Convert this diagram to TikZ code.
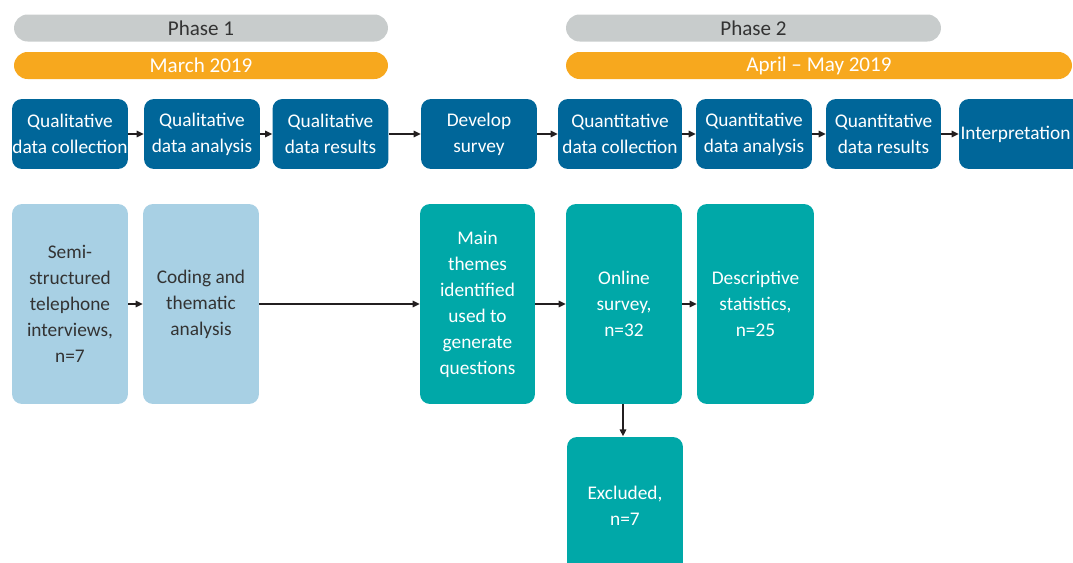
\documentclass[tikz,border=0pt]{standalone}
\usepackage{fontspec}
\setmainfont{Carlito}
\usetikzlibrary{arrows.meta,positioning}
\definecolor{phaseGray}{RGB}{200,204,204}
\definecolor{dateOrange}{RGB}{247,168,30}
\definecolor{stepBlue}{RGB}{0,102,153}
\definecolor{qualBlue}{RGB}{168,208,228}
\definecolor{quantTeal}{RGB}{0,168,168}
\definecolor{darkInk}{RGB}{51,51,51}
\definecolor{arrowInk}{RGB}{35,31,32}
\tikzset{
  bar/.style={rounded corners=0.27cm, minimum height=0.54cm, inner sep=0pt, font=\fontsize{12}{14.6}\selectfont},
  phasebar/.style={bar, fill=phaseGray, text=darkInk},
  datebar/.style={bar, fill=dateOrange, text=white},
  box/.style={rounded corners=0.2cm, align=center, inner sep=0pt, minimum width=2.32cm, font=\fontsize{11}{14.8}\selectfont},
  stepbox/.style={box, fill=stepBlue, text=white, minimum height=1.4cm},
  qualbox/.style={box, fill=qualBlue, text=darkInk, minimum height=4cm},
  quantbox/.style={box, fill=quantTeal, text=white, minimum height=4cm},
  flow/.style={-{Triangle[length=1.4mm,width=1.3mm]}, line width=0.85pt, draw=arrowInk}
}

\begin{document}
\begin{tikzpicture}[x=0.02cm, y=-0.02cm]
        \useasboundingbox (0,0) rectangle (1073,562);
        \clip (0,0) rectangle (1073,562);
        % timeline bars
        \node[phasebar, minimum width=7.48cm] (p1) at (201,28) {Phase 1};
        \node[datebar, minimum width=7.48cm] (d1) at (201,65.5) {March 2019};
        \node[phasebar, minimum width=7.5cm] (p2) at (753.5,28) {Phase 2};
        \node[datebar, minimum width=10.12cm] (d2) at (819,65.5) {April – May 2019};
        % process steps
        \node[stepbox] (ql1) at (70,134) {Qualitative\\data collection};
        \node[stepbox] (ql2) at (202,134) {Qualitative\\data analysis};
        \node[stepbox] (ql3) at (330.5,134) {Qualitative\\data results};
        \node[stepbox] (dev) at (479,134) {Develop\\survey};
        \node[stepbox, minimum width=2.48cm] (qn1) at (620,134) {Quantitative\\data collection};
        \node[stepbox] (qn2) at (754,134) {Quantitative\\data analysis};
        \node[stepbox, minimum width=2.3cm] (qn3) at (883.5,134) {Quantitative\\data results};
        \node[stepbox, minimum width=2.48cm, align=left, text width=2.42cm] (int) at (1021,134) {Interpretation};
        % details
        \node[qualbox] (semi) at (70,304) {Semi-\\structured\\telephone\\interviews,\\n=7};
        \node[qualbox] (code) at (201,304) {Coding and\\thematic\\analysis};
        \node[quantbox, minimum width=2.3cm] (themes) at (477.5,304) {Main\\themes\\identified\\used to\\generate\\questions};
        \node[quantbox] (online) at (624,304) {Online\\survey,\\n=32};
        \node[quantbox, minimum width=2.34cm] (desc) at (755.5,304) {Descriptive\\statistics,\\n=25};
        \node[quantbox, minimum height=2.76cm] (excl) at (625,506) {Excluded,\\n=7};
        \draw[flow] (ql1) -- (ql2);
        \draw[flow] (ql2) -- (ql3);
        \draw[flow] (ql3) -- (dev);
        \draw[flow] (dev) -- (qn1);
        \draw[flow] (qn1) -- (qn2);
        \draw[flow] (qn2) -- (qn3);
        \draw[flow] (qn3) -- (int);
        \draw[flow] (semi) -- (code);
        \draw[flow] (code) -- (themes);
        \draw[flow] (themes) -- (online);
        \draw[flow] (online) -- (desc);
        \draw[flow] (online.south -| excl.north) ++(-2,0) -- ++(0,32);
      \end{tikzpicture}
\end{document}
